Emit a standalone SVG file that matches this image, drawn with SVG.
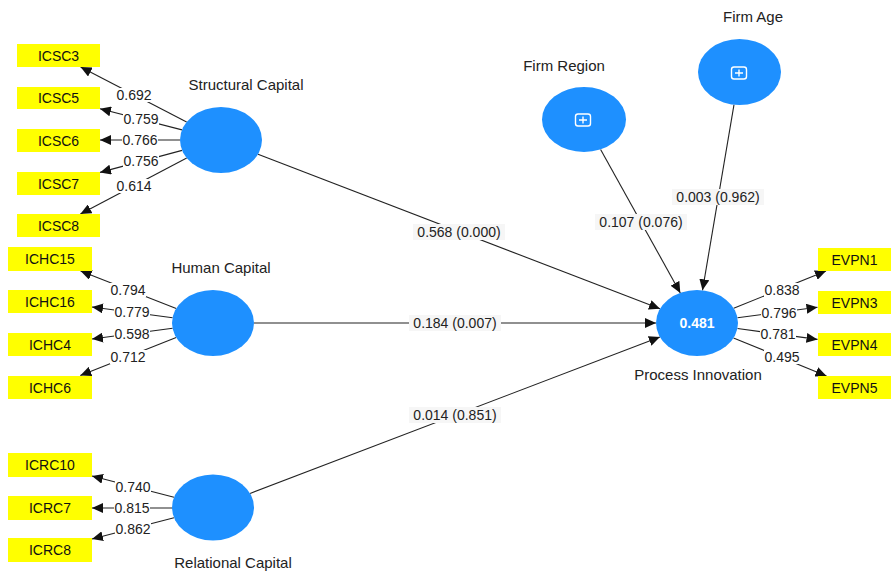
<svg xmlns="http://www.w3.org/2000/svg" width="894" height="572" viewBox="0 0 894 572">
  <defs>
    <marker id="arrow" markerUnits="userSpaceOnUse" markerWidth="12" markerHeight="10" refX="11" refY="5" orient="auto">
      <path d="M0,0 L11,5 L0,10 Z" fill="#111"/>
    </marker>
    <g id="plusIcon">
      <rect x="-7.5" y="-6" width="15" height="12" rx="2.5" fill="none" stroke="#fff" stroke-width="1.4"/>
      <path d="M-4,0 H4 M0,-3.5 V3.5" stroke="#fff" stroke-width="1.4"/>
    </g>
  </defs>
  <style>
    .bg { fill: #ffffff; }
    .lv { fill: #1e90ff; }
    .ind { fill: #ffff00; }
    .ind-t { font-family: "Liberation Sans", Arial, sans-serif; font-size: 14px; fill: #111; text-anchor: middle; }
    .name { font-family: "Liberation Sans", Arial, sans-serif; font-size: 15px; fill: #222; text-anchor: middle; }
    .r2 { font-family: "Liberation Sans", Arial, sans-serif; font-size: 14px; font-weight: bold; fill: #fff; text-anchor: middle; }
    .edge { stroke: #222; stroke-width: 1.1; fill: none; marker-end: url(#arrow); }
    .lbl-bg { fill: #ffffff; }
    .path-bg { fill: #f6f6f6; }
    .lbl { font-family: "Liberation Sans", Arial, sans-serif; font-size: 14px; fill: #222; text-anchor: middle; }
  </style>
  <rect class="bg" x="0" y="0" width="894" height="572"/>

  <!-- connectors -->
  <g id="connectors">
    <!-- structural paths -->
    <line class="edge" x1="258" y1="154.2" x2="660" y2="308.8"/>
    <line class="edge" x1="254" y1="323" x2="656" y2="323"/>
    <line class="edge" x1="250.1" y1="493.4" x2="659.9" y2="337.1"/>
    <line class="edge" x1="600.6" y1="149.4" x2="680.3" y2="292.9"/>
    <line class="edge" x1="734" y1="104.7" x2="702.5" y2="290.3"/>
    <!-- Structural Capital loadings -->
    <line class="edge" x1="186.6" y1="122.1" x2="80.6" y2="67"/>
    <line class="edge" x1="182" y1="129.9" x2="100" y2="108.7"/>
    <line class="edge" x1="180" y1="140" x2="100" y2="140"/>
    <line class="edge" x1="182.1" y1="150.4" x2="100" y2="172.4"/>
    <line class="edge" x1="186.7" y1="158" x2="80.4" y2="214"/>
    <!-- Human Capital loadings -->
    <line class="edge" x1="176.2" y1="308.5" x2="80.6" y2="271"/>
    <line class="edge" x1="172.6" y1="317.7" x2="92" y2="307"/>
    <line class="edge" x1="172.6" y1="328.3" x2="92" y2="339"/>
    <line class="edge" x1="176.2" y1="337.6" x2="80.3" y2="375.5"/>
    <!-- Relational Capital loadings -->
    <line class="edge" x1="174" y1="497.3" x2="92" y2="476"/>
    <line class="edge" x1="172" y1="508" x2="92" y2="508"/>
    <line class="edge" x1="174" y1="517.7" x2="92" y2="539"/>
    <!-- Process Innovation loadings -->
    <line class="edge" x1="733.7" y1="308.2" x2="826" y2="271"/>
    <line class="edge" x1="737.5" y1="317.7" x2="817.5" y2="307.3"/>
    <line class="edge" x1="737.5" y1="328.5" x2="817.5" y2="339.4"/>
    <line class="edge" x1="733.5" y1="338" x2="826.5" y2="376"/>

    <!-- path coefficient labels -->
    <rect class="path-bg" x="413" y="224" width="92" height="16"/>
    <text class="lbl" x="459" y="237">0.568 (0.000)</text>
    <rect class="path-bg" x="409" y="315" width="92" height="16"/>
    <text class="lbl" x="455" y="328">0.184 (0.007)</text>
    <rect class="path-bg" x="409" y="407" width="92" height="16"/>
    <text class="lbl" x="455" y="420">0.014 (0.851)</text>
    <rect class="path-bg" x="595" y="214" width="92" height="16"/>
    <text class="lbl" x="641" y="227">0.107 (0.076)</text>
    <rect class="path-bg" x="672" y="189" width="92" height="16"/>
    <text class="lbl" x="718" y="202">0.003 (0.962)</text>

    <!-- loading labels -->
    <rect class="lbl-bg" x="116" y="88" width="36" height="14"/>
    <text class="lbl" x="134" y="100">0.692</text>
    <rect class="lbl-bg" x="123" y="112" width="36" height="14"/>
    <text class="lbl" x="141" y="124">0.759</text>
    <rect class="lbl-bg" x="122" y="133" width="36" height="14"/>
    <text class="lbl" x="140" y="145">0.766</text>
    <rect class="lbl-bg" x="123" y="154" width="36" height="14"/>
    <text class="lbl" x="141" y="166">0.756</text>
    <rect class="lbl-bg" x="116" y="179" width="36" height="14"/>
    <text class="lbl" x="134" y="191">0.614</text>

    <rect class="lbl-bg" x="110" y="283" width="36" height="14"/>
    <text class="lbl" x="128" y="295">0.794</text>
    <rect class="lbl-bg" x="114" y="305" width="36" height="14"/>
    <text class="lbl" x="132" y="317">0.779</text>
    <rect class="lbl-bg" x="114" y="327" width="36" height="14"/>
    <text class="lbl" x="132" y="339">0.598</text>
    <rect class="lbl-bg" x="110" y="350" width="36" height="14"/>
    <text class="lbl" x="128" y="362">0.712</text>

    <rect class="lbl-bg" x="115" y="480" width="36" height="14"/>
    <text class="lbl" x="133" y="492">0.740</text>
    <rect class="lbl-bg" x="114" y="501" width="36" height="14"/>
    <text class="lbl" x="132" y="513">0.815</text>
    <rect class="lbl-bg" x="115" y="522" width="36" height="14"/>
    <text class="lbl" x="133" y="534">0.862</text>

    <rect class="lbl-bg" x="764" y="283" width="36" height="14"/>
    <text class="lbl" x="782" y="295">0.838</text>
    <rect class="lbl-bg" x="761" y="306" width="36" height="14"/>
    <text class="lbl" x="779" y="318">0.796</text>
    <rect class="lbl-bg" x="760" y="327" width="36" height="14"/>
    <text class="lbl" x="778" y="339">0.781</text>
    <rect class="lbl-bg" x="764" y="350" width="36" height="14"/>
    <text class="lbl" x="782" y="362">0.495</text>
  </g>

  <!-- latent variables -->
  <g id="structural-capital">
    <ellipse class="lv" cx="221" cy="140" rx="41" ry="33"/>
    <text class="name" x="246" y="90">Structural Capital</text>
  </g>
  <g id="human-capital">
    <ellipse class="lv" cx="213" cy="323" rx="41" ry="33"/>
    <text class="name" x="221" y="273">Human Capital</text>
  </g>
  <g id="relational-capital">
    <ellipse class="lv" cx="213" cy="507.5" rx="41" ry="33"/>
    <text class="name" x="233" y="568">Relational Capital</text>
  </g>
  <g id="process-innovation">
    <ellipse class="lv" cx="697" cy="323" rx="41" ry="33"/>
    <text class="r2" x="697" y="328">0.481</text>
    <text class="name" x="698" y="380">Process Innovation</text>
  </g>
  <g id="firm-region">
    <ellipse class="lv" cx="584" cy="119.5" rx="42" ry="32.5"/>
    <use href="#plusIcon" x="583" y="120"/>
    <text class="name" x="564" y="71">Firm Region</text>
  </g>
  <g id="firm-age">
    <ellipse class="lv" cx="739.5" cy="72" rx="41.5" ry="33"/>
    <use href="#plusIcon" x="739" y="73"/>
    <text class="name" x="753" y="22">Firm Age</text>
  </g>

  <!-- indicators -->
  <g id="ICSC3"><rect class="ind" x="17" y="44" width="83" height="23"/><text class="ind-t" x="58.5" y="60.5">ICSC3</text></g>
  <g id="ICSC5"><rect class="ind" x="17" y="87" width="83" height="22"/><text class="ind-t" x="58.5" y="103">ICSC5</text></g>
  <g id="ICSC6"><rect class="ind" x="17" y="129" width="83" height="23"/><text class="ind-t" x="58.5" y="145.5">ICSC6</text></g>
  <g id="ICSC7"><rect class="ind" x="17" y="172" width="83" height="23"/><text class="ind-t" x="58.5" y="188.5">ICSC7</text></g>
  <g id="ICSC8"><rect class="ind" x="17" y="214" width="83" height="23"/><text class="ind-t" x="58.5" y="230.5">ICSC8</text></g>

  <g id="ICHC15"><rect class="ind" x="8" y="247" width="84" height="24"/><text class="ind-t" x="50" y="264">ICHC15</text></g>
  <g id="ICHC16"><rect class="ind" x="8" y="290" width="84" height="23"/><text class="ind-t" x="50" y="306.5">ICHC16</text></g>
  <g id="ICHC4"><rect class="ind" x="8" y="333" width="84" height="23"/><text class="ind-t" x="50" y="349.5">ICHC4</text></g>
  <g id="ICHC6"><rect class="ind" x="8" y="376" width="84" height="23"/><text class="ind-t" x="50" y="392.5">ICHC6</text></g>

  <g id="ICRC10"><rect class="ind" x="8" y="453" width="84" height="24"/><text class="ind-t" x="50" y="470">ICRC10</text></g>
  <g id="ICRC7"><rect class="ind" x="8" y="496" width="84" height="24"/><text class="ind-t" x="50" y="513">ICRC7</text></g>
  <g id="ICRC8"><rect class="ind" x="8" y="538" width="84" height="24"/><text class="ind-t" x="50" y="555">ICRC8</text></g>

  <g id="EVPN1"><rect class="ind" x="818" y="248" width="73" height="23"/><text class="ind-t" x="854.5" y="264.5">EVPN1</text></g>
  <g id="EVPN3"><rect class="ind" x="818" y="291" width="73" height="23"/><text class="ind-t" x="854.5" y="307.5">EVPN3</text></g>
  <g id="EVPN4"><rect class="ind" x="818" y="333" width="73" height="23"/><text class="ind-t" x="854.5" y="349.5">EVPN4</text></g>
  <g id="EVPN5"><rect class="ind" x="818" y="376" width="73" height="23"/><text class="ind-t" x="854.5" y="392.5">EVPN5</text></g>
</svg>
